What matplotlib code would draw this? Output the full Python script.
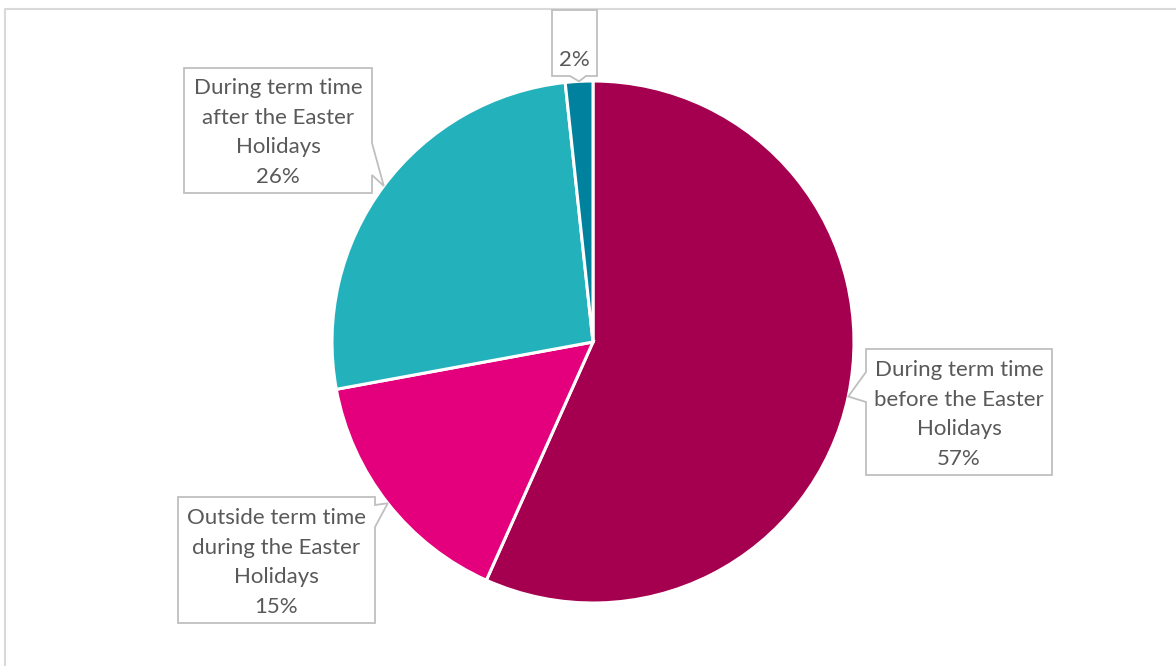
import numpy as np
import matplotlib.pyplot as plt
from matplotlib.patches import Polygon

labels = ['During term time\nbefore the Easter\nHolidays',
          'Outside term time\nduring the Easter\nHolidays',
          'During term time\nafter the Easter\nHolidays',
          '']
values = [56.7, 15.4, 26.2, 1.7]
colors = ['#A5004F', '#E4007D', '#23B1BC', '#00819E']

# callout layout in pixels (image coords, y down): box and pointer base
boxes = [(866, 349, 1052, 475), (178, 497, 375, 623),
         (184, 68, 372, 193), (552, 10, 597, 76)]
bases = [('left', 372, 402), ('right', 505, 527),
         ('right', 143, 175), ('bottom', 570, 586)]

W, H = 1176, 666
cx, cy, r = 593, 342, 261

fig = plt.figure(figsize=(W / 100, H / 100), dpi=100)
ax = fig.add_axes([0, 0, 1, 1])

wedges, _ = ax.pie(values, colors=colors, startangle=90, counterclock=False,
                   center=(cx, H - cy), radius=r,
                   wedgeprops=dict(edgecolor='white', linewidth=2.2))
# pie() resets the limits, so set them afterwards
ax.set_xlim(0, W)
ax.set_ylim(0, H)
ax.set_aspect('equal')
ax.axis('off')

# chart area border (runs off the right/bottom of the image)
ax.plot([5, 5, W + 10], [-10, H - 9, H - 9], color='#D9D9D9', lw=1.5,
        clip_on=False)


def callout(box, base, tip):
    x0, y0, x1, y1 = box
    side, a, b = base
    if side == 'left':
        pts = [(x0, y0), (x1, y0), (x1, y1), (x0, y1), (x0, b), tip, (x0, a)]
    elif side == 'right':
        pts = [(x0, y0), (x1, y0), (x1, a), tip, (x1, b), (x1, y1), (x0, y1)]
    else:
        pts = [(x0, y0), (x1, y0), (x1, y1), (b, y1), tip, (a, y1), (x0, y1)]
    pts = [(px, H - py) for px, py in pts]
    ax.add_patch(Polygon(pts, closed=True, facecolor='white',
                         edgecolor='#BFBFBF', lw=1.3, zorder=3))


total = sum(values)
for w, lab, val, box, base in zip(wedges, labels, values, boxes, bases):
    mid = np.deg2rad((w.theta1 + w.theta2) / 2)
    tip = (cx + r * np.cos(mid), cy - r * np.sin(mid))
    callout(box, base, tip)
    pct = f'{val / total * 100:.0f}%'
    txt = f'{lab}\n{pct}' if lab else pct
    # last line's baseline sits 10px above the box bottom
    ax.text((box[0] + box[2]) / 2, H - box[3] + 10, txt,
            ha='center', va='baseline', fontsize=16, family='Lato',
            color='#595959', linespacing=1.6, zorder=4)

fig.savefig('out.png', dpi=100)
